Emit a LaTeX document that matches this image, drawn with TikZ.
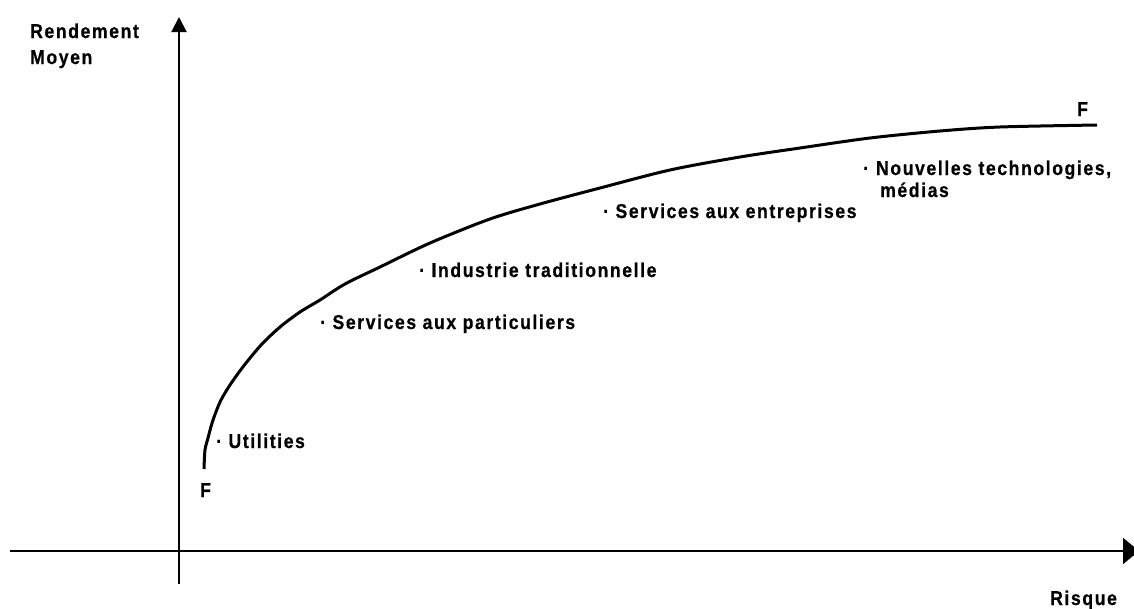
\documentclass[tikz,border=0pt]{standalone}
\usepackage{fontspec}
\setmainfont{Liberation Sans}[FakeStretch=0.88,LetterSpace=8,FakeBold=0.6]
\usetikzlibrary{arrows.meta}
\begin{document}
\begin{tikzpicture}[x=1pt,y=-1pt,
  lbl/.style={anchor=base west,inner sep=0pt,font=\fontsize{20}{25}\selectfont\bfseries},
  axis/.style={line width=2pt},
  curve/.style={line width=3pt,line join=round}]
\useasboundingbox (0,0) rectangle (1134,608);
% axes
\coordinate (ybot) at (179,584);
\coordinate (ytop) at (179,17);
\coordinate (xleft) at (10,551);
\coordinate (xright) at (1139,551);
\draw[axis,-{Triangle[length=15pt,width=15pt]}] (ybot) -- (ytop);
\draw[axis,-{Triangle[length=16pt,width=26pt]}] (xleft) -- (xright);
% curve
\draw[curve] plot[smooth,tension=0.5] coordinates {(204,469) (205,450) (208,438) (213,420) (221,400) (232,382) (246,363) (262,344) (280,327) (300,312) (320,300) (345,284) (380,267) (430,243) (490,219) (540,204) (600,188) (670,170) (740,157) (800,148) (870,138) (940,131) (1000,127) (1097,125)};
% labels
\node[lbl] (rend) at (30,38) {Rendement};
\node[lbl] (moy) at (30,64) {Moyen};
\node[lbl] (risq) at (1050,605) {Risque};
\node[lbl] (fb) at (200,497) {F};
\node[lbl] (ft) at (1077,116) {F};
\node[lbl] (util) at (216,448) {· Utilities};
\node[lbl] (part) at (320,329) {· Services aux particuliers};
\node[lbl] (ind) at (419,277) {· Industrie traditionnelle};
\node[lbl] (ent) at (603,218) {· Services aux entreprises};
\node[lbl] (nt) at (863,175) {·\hspace{7pt}Nouvelles technologies,};
\node[lbl] (med) at (880,197) {médias};
\end{tikzpicture}
\end{document}
